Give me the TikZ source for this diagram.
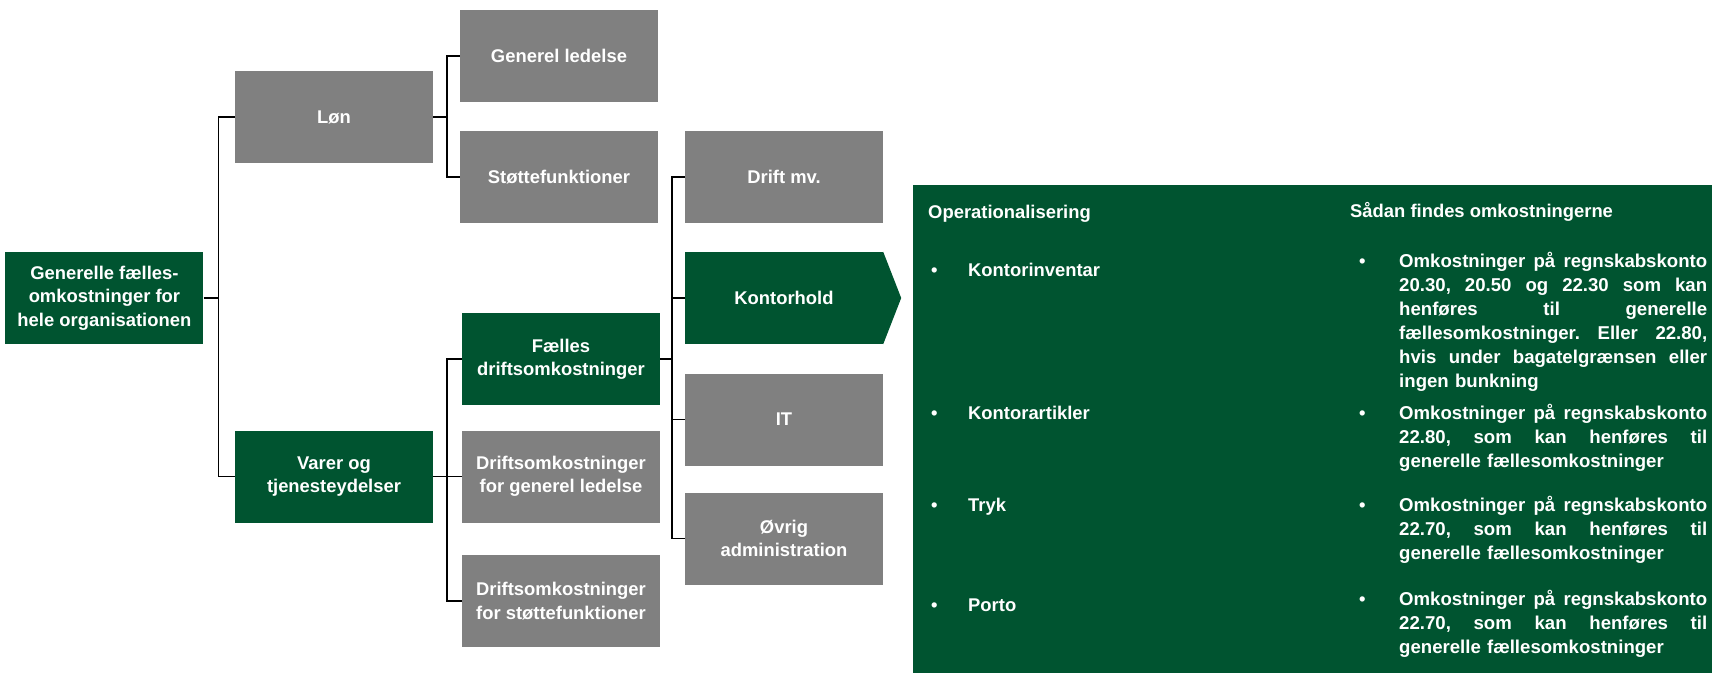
\documentclass[tikz,border=0pt]{standalone}
\usepackage{fontspec}
\setmainfont{Liberation Sans}
\definecolor{dkgreen}{RGB}{0,84,48}
\definecolor{boxgray}{RGB}{128,128,128}
\newcommand{\fullline}[1]{\makebox[308pt][s]{#1}}
\newcommand{\jsp}{\hskip 0.25em plus 1fill\relax}

\begin{document}
\begin{tikzpicture}[x=1pt, y=-1pt,
    box/.style={rectangle, minimum width=198pt, minimum height=92pt, inner sep=0pt, align=center, text=white, font=\bfseries\fontsize{18.4}{23.4}\selectfont},
    graybox/.style={box, fill=boxgray},
    greenbox/.style={box, fill=dkgreen},
    paneltext/.style={anchor=base west, inner sep=0pt, text=white, font=\bfseries\fontsize{18.4}{23.3}\selectfont},
    findtext/.style={paneltext, text width=308pt, align=left, font=\bfseries\fontsize{18.6}{24}\selectfont},
    link/.style={line width=1.5pt}]
    \useasboundingbox (0, 0) rectangle (1712, 673);

    % Nodes
    % root | Løn, Varer | column 2 | column 3

    \node[greenbox] at (104.4, 298) (root) {Generelle fælles-\\omkostninger for\\hele organisationen};
    \node[graybox] at (334, 117) (lon) {Løn};
    \node[greenbox] at (334, 476.5) (varer) {Varer og\\tjenesteydelser};
    \node[graybox] at (559, 56) (genled) {Generel ledelse};
    \node[graybox] at (559, 177) (stotte) {Støttefunktioner};
    \node[greenbox] at (561, 359) (faelles) {Fælles\\driftsomkostninger};
    \node[graybox] at (561, 476.5) (dgenled) {Driftsomkostninger\\for generel ledelse};
    \node[graybox] at (561, 601) (dstotte) {Driftsomkostninger\\for støttefunktioner};
    \node[graybox] at (784, 177) (drift) {Drift mv.};
    \node[greenbox] at (784, 298) (kontor) {Kontorhold};
    \node[graybox] at (784, 419.5) (it) {IT};
    \node[graybox] at (784, 538.5) (ovrig) {Øvrig\\administration};
    \fill[dkgreen] (kontor.north east) -- ([xshift=18pt]kontor.east) -- (kontor.south east) -- cycle;

    % Connectors
    \coordinate (j1) at (218.7, 298);
    \coordinate (j2) at (447, 117);
    \coordinate (j3) at (447, 476.5);
    \coordinate (j4) at (672, 359);

    \draw[link] (root.east) -- (j1) |- (lon.west);
    \draw[link] (j1) |- (varer.west);
    \draw[link] (lon.east) -- (j2) |- (genled.west);
    \draw[link] (j2) |- (stotte.west);
    \draw[link] (varer.east) -- (j3) |- (faelles.west);
    \draw[link] (j3) -- (dgenled.west);
    \draw[link] (j3) |- (dstotte.west);
    \draw[link] (faelles.east) -- (j4) |- (drift.west);
    \draw[link] (j4) |- (kontor.west);
    \draw[link] (j4) |- (it.west);
    \draw[link] (j4) |- (ovrig.west);

    % Panel
    \node[fill=dkgreen, minimum width=799pt, minimum height=488pt, inner sep=0pt, anchor=north west] at (913, 185) (panel) {};

    \node[paneltext] at (928, 218) (ophead) {Operationalisering};
    \node[paneltext] at (1350, 217) (findhead) {Sådan findes omkostningerne};

    \node[paneltext] at (931, 276) (b1) {•};
    \node[paneltext] at (968, 276) (op1) {Kontorinventar};
    \node[paneltext] at (931, 419) (b2) {•};
    \node[paneltext] at (968, 419) (op2) {Kontorartikler};
    \node[paneltext] at (931, 511) (b3) {•};
    \node[paneltext] at (968, 511) (op3) {Tryk};
    \node[paneltext] at (931, 611) (b4) {•};
    \node[paneltext] at (968, 611) (op4) {Porto};

    \node[paneltext] at (1359, 267) (c1) {•};
    \node[findtext] at (1399, 267) (find1) {\fullline{Omkostninger\jsp på\jsp regnskabskonto}\\
        \fullline{20.30,\jsp 20.50\jsp og\jsp 22.30\jsp som\jsp kan}\\
        \fullline{henføres\jsp til\jsp generelle}\\
        \fullline{fællesomkostninger.\jsp Eller\jsp 22.80,}\\
        \fullline{hvis\jsp under\jsp bagatelgrænsen\jsp eller}\\
        ingen bunkning};
    \node[paneltext] at (1359, 419) (c2) {•};
    \node[findtext] at (1399, 419) (find2) {\fullline{Omkostninger\jsp på\jsp regnskabskonto}\\
        \fullline{22.80,\jsp som\jsp kan\jsp henføres\jsp til}\\
        generelle fællesomkostninger};
    \node[paneltext] at (1359, 511) (c3) {•};
    \node[findtext] at (1399, 511) (find3) {\fullline{Omkostninger\jsp på\jsp regnskabskonto}\\
        \fullline{22.70,\jsp som\jsp kan\jsp henføres\jsp til}\\
        generelle fællesomkostninger};
    \node[paneltext] at (1359, 605) (c4) {•};
    \node[findtext] at (1399, 605) (find4) {\fullline{Omkostninger\jsp på\jsp regnskabskonto}\\
        \fullline{22.70,\jsp som\jsp kan\jsp henføres\jsp til}\\
        generelle fællesomkostninger};

  \end{tikzpicture}
\end{document}
